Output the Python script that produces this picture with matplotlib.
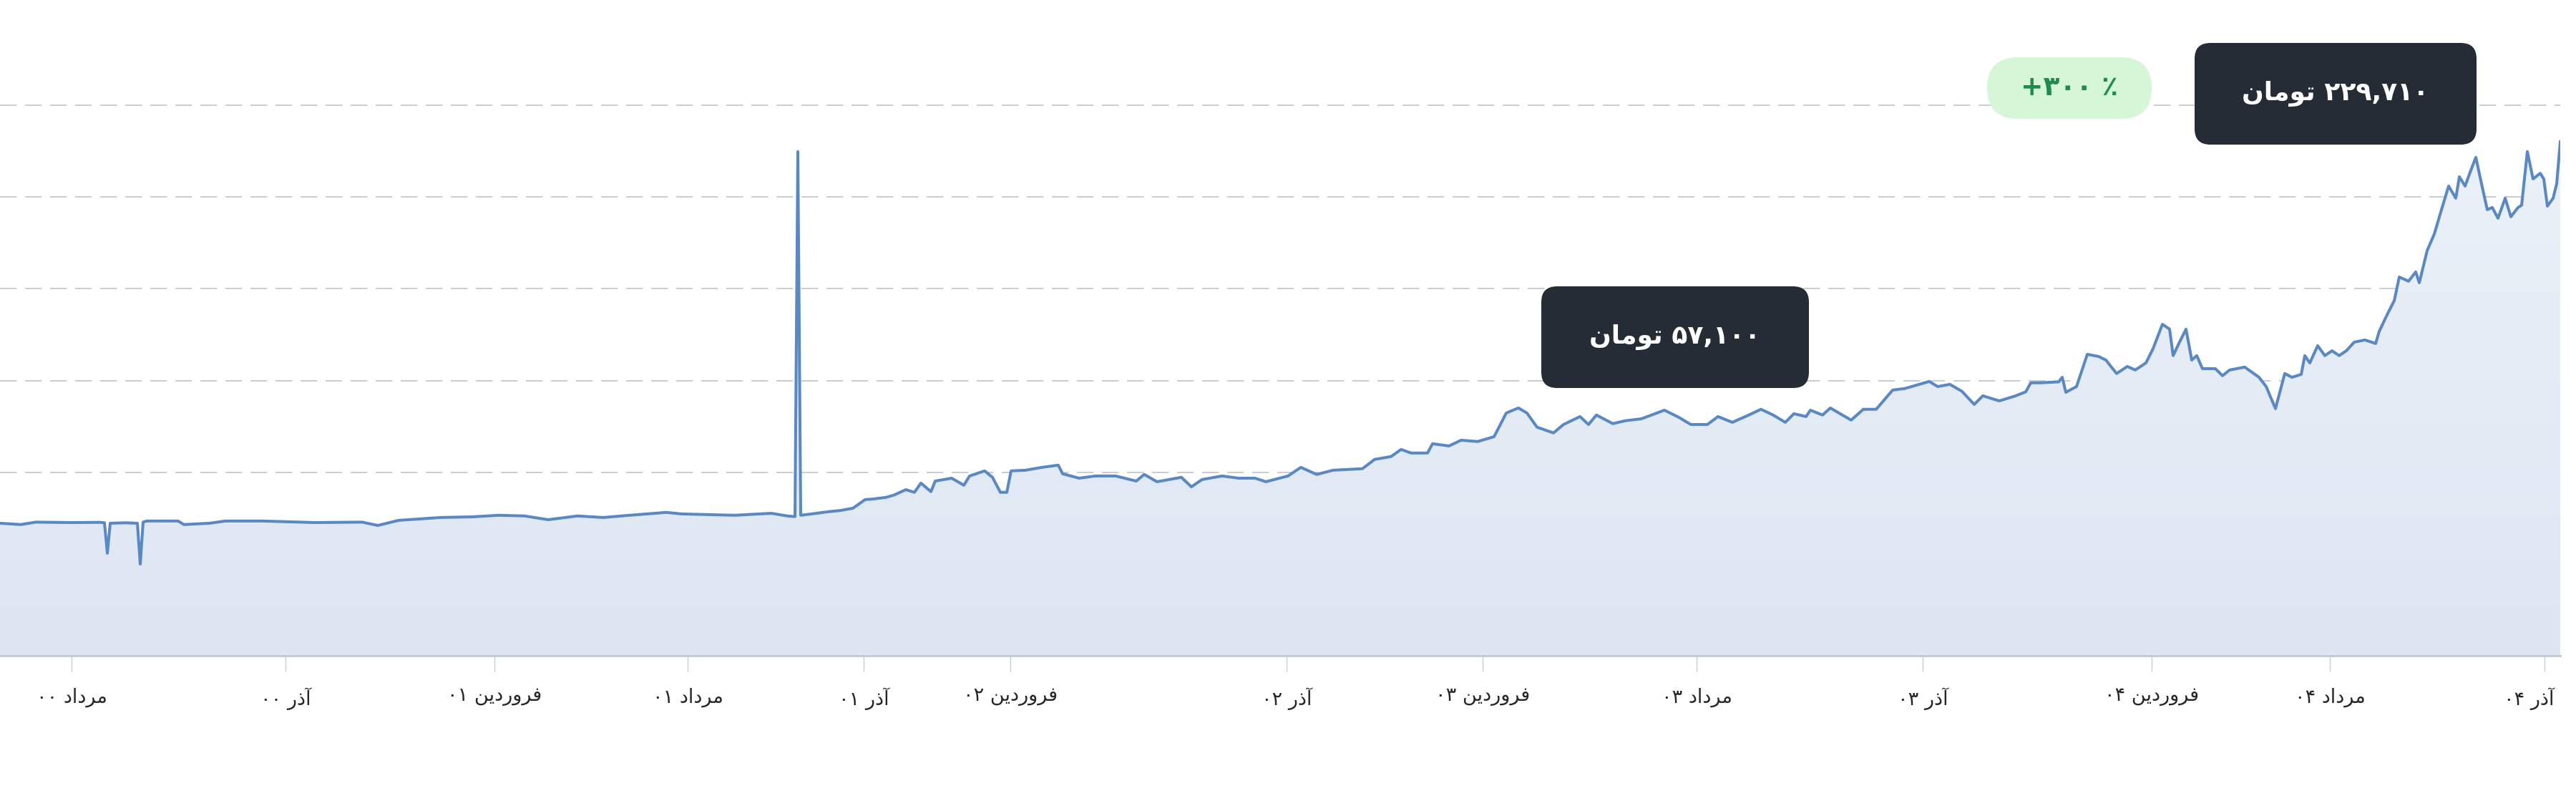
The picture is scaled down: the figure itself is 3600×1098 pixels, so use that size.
import numpy as np
import matplotlib
matplotlib.use("Agg")
import matplotlib.pyplot as plt
from matplotlib.patches import FancyBboxPatch, Polygon
from matplotlib.colors import LinearSegmentedColormap
from matplotlib.transforms import ScaledTranslation

plt.rcParams['font.family'] = ['DejaVu Sans']

# ---------------- data ----------------
# sample position along the time axis
t = [0, 29, 50, 100, 140, 146, 150, 154, 175, 192, 196, 200, 205, 249, 257,
     293, 315, 367, 440, 506, 528, 557, 616, 660, 697, 733, 766, 807, 843, 880,
     931, 953, 1027, 1078, 1100, 1111, 1115, 1119,
     1134, 1157, 1175, 1192, 1209, 1221, 1238, 1249, 1266, 1278, 1287, 1301, 1307,
     1330, 1347, 1355, 1376, 1387, 1398, 1407, 1413, 1433, 1456, 1479, 1485, 1508,
     1531, 1559, 1588, 1599, 1617, 1651, 1665, 1680, 1708, 1731, 1754, 1769, 1800,
     1818, 1840, 1863, 1904, 1921, 1944, 1958, 1972, 1995,
     2002, 2025, 2042, 2065, 2088, 2105, 2122, 2134, 2148, 2171, 2185, 2208, 2220,
     2231, 2254, 2271, 2294, 2326, 2346, 2363, 2386, 2401, 2421, 2444, 2461, 2478,
     2495, 2507, 2524, 2530, 2547, 2558, 2570, 2587, 2604, 2622, 2645, 2662, 2679,
     2696, 2708, 2725, 2742, 2759, 2771, 2794, 2817, 2831,
     2838, 2851, 2877, 2882, 2887, 2902, 2917, 2933, 2943, 2958, 2973, 2984, 2999,
     3009, 3022, 3032, 3037, 3045, 3055, 3063, 3070, 3078, 3096, 3106, 3116, 3137,
     3157, 3167, 3180, 3193, 3203, 3216, 3221, 3228, 3239, 3249, 3259, 3269, 3279,
     3290, 3305, 3320, 3325, 3336, 3346, 3353, 3366, 3376, 3381, 3392, 3402, 3412,
     3422, 3432, 3437, 3445, 3453, 3460, 3468, 3476, 3483, 3491, 3501, 3509, 3519,
     3524, 3532, 3540, 3550, 3555, 3560, 3568, 3573, 3578]

# price in thousand toman
price_k = [57.0, 56.4, 57.5, 57.3, 57.4, 57.2, 43.4, 57.0, 57.2, 57.0, 38.5, 57.5, 58.0, 58.0, 56.4,
           57.0, 58.0, 58.0, 57.3, 57.5, 56.0, 58.3, 59.6, 59.9, 60.6, 60.3, 58.6, 60.3, 59.6, 60.6,
           61.9, 61.2, 60.6, 61.5, 60.3, 60.0, 225.3, 60.6,
           61.2, 62.2, 62.8, 63.8, 67.7, 68.0, 68.7, 69.7, 72.2, 71.0, 75.2, 71.3, 76.1,
           77.4, 74.2, 78.4, 80.7, 77.8, 71.0, 71.0, 80.7, 81.0, 82.3, 83.3, 79.4, 77.4,
           78.4, 78.4, 76.1, 79.1, 75.8, 77.8, 73.5, 76.8, 78.4, 77.4, 77.4, 75.8, 78.4,
           82.3, 79.1, 81.0, 81.7, 85.9, 87.2, 90.4, 88.8, 88.8,
           93.0, 92.0, 94.6, 94.0, 96.2, 106.9, 109.2, 106.9, 100.5, 97.9, 101.7, 105.3, 101.7,
           106.0, 102.1, 103.4, 104.3, 108.2, 105.0, 101.7, 101.7, 105.3, 102.7, 106.0, 108.6, 106.0,
           102.7, 106.6, 105.3, 108.2, 106.0, 109.2, 106.9, 103.7, 108.6, 108.6, 117.3, 118.0, 119.6,
           121.2, 118.9, 119.9, 116.7, 110.8, 114.7, 112.4, 114.7, 116.5,
           120.6, 120.6, 121.0, 123.1, 116.3, 118.9, 133.5, 132.5, 130.9, 124.8, 128.0, 126.4, 129.6,
           136.1, 147.1, 144.9, 132.9, 138.4, 144.9, 130.9, 132.9, 127.0, 127.0, 123.8, 126.4, 127.7,
           123.1, 118.9, 108.9, 124.8, 123.1, 124.4, 132.9, 129.6, 137.4, 132.9, 135.1, 132.9, 135.1,
           139.0, 140.0, 138.4, 143.9, 151.4, 157.8, 168.5, 166.6, 170.8, 165.9, 180.5, 188.0, 199.0,
           209.7, 204.2, 213.9, 209.7, 216.8, 222.7, 210.7, 199.0, 200.0, 195.1, 204.2, 195.8, 200.0,
           201.0, 225.3, 212.9, 215.5, 212.9, 200.6, 204.2, 210.7, 229.71]

tick_pos = [100, 399, 691, 961, 1207, 1412, 1798, 2072, 2371, 2687, 3007, 3256, 3556]
tick_labels = ['مرداد ۰۰', 'آذر ۰۰', 'فروردین ۰۱', 'مرداد ۰۱', 'آذر ۰۱', 'فروردین ۰۲',
               'آذر ۰۲', 'فروردین ۰۳', 'مرداد ۰۳', 'آذر ۰۳', 'فروردین ۰۴', 'مرداد ۰۴', 'آذر ۰۴']
latest_label = '۲۲۹,۷۱۰ تومان'
start_label = '۵۷,۱۰۰ تومان'
change_label = '+۳۰۰ ٪'

# ---------------- minimal Persian shaping (matplotlib has no RTL layout) ----------------
FORMS = {  # isolated, final, initial, medial
    'ا': ('\uFE8D', '\uFE8E', None, None),
    'آ': ('\uFE81', '\uFE82', None, None),
    'د': ('\uFEA9', '\uFEAA', None, None),
    'ذ': ('\uFEAB', '\uFEAC', None, None),
    'ر': ('\uFEAD', '\uFEAE', None, None),
    'و': ('\uFEED', '\uFEEE', None, None),
    'م': ('\uFEE1', '\uFEE2', '\uFEE3', '\uFEE4'),
    'ن': ('\uFEE5', '\uFEE6', '\uFEE7', '\uFEE8'),
    'ت': ('\uFE95', '\uFE96', '\uFE97', '\uFE98'),
    'ف': ('\uFED1', '\uFED2', '\uFED3', '\uFED4'),
    'ی': ('\uFBFC', '\uFBFD', '\uFEF3', '\uFEF4'),
}


def shape_word(w):
    out = []
    for i, c in enumerate(w):
        f = FORMS.get(c)
        if f is None:
            out.append(c)
            continue
        prev = w[i - 1] if i > 0 else None
        nxt = w[i + 1] if i + 1 < len(w) else None
        jp = prev in FORMS and FORMS[prev][2] is not None
        jn = f[2] is not None and nxt in FORMS
        if jp and jn:
            out.append(f[3])
        elif jp:
            out.append(f[1])
        elif jn:
            out.append(f[2])
        else:
            out.append(f[0])
    return ''.join(out)


def rtl(text):
    vis = []
    for tok in text.split(' '):
        if any(c in FORMS for c in tok):
            vis.append(shape_word(tok)[::-1])
        else:
            vis.append(tok)
    return ' '.join(vis[::-1])


# ---------------- figure ----------------
W, H = 3600, 1098
fig = plt.figure(figsize=(W / 100, H / 100), dpi=100)
fig.patch.set_facecolor('white')

y_bot_px, y_top_px, x_right_px = 916, 147, 3578
ax = fig.add_axes([0, (H - y_bot_px) / H, x_right_px / W, (y_bot_px - y_top_px) / H])
ax.set_facecolor('none')

ymin, ystep = -3.0, 41.55
ymax = ymin + 6 * ystep
ax.set_xlim(0, 3578)
ax.set_ylim(ymin, ymax)

x = np.array(t, dtype=float)
y = np.array(price_k, dtype=float)

# gridlines
for k in range(1, 7):
    ax.axhline(ymin + k * ystep, color='#c9cdd3', lw=1.4, dashes=(12, 6), zorder=0.5, clip_on=False)

# gradient area fill
cmap = LinearSegmentedColormap.from_list('area', ['#dde6f2', '#edf2f9'])
grad = np.linspace(0, 1, 256).reshape(-1, 1)
im = ax.imshow(grad, extent=[0, 3578, ymin, ymax], origin='lower', aspect='auto',
               cmap=cmap, zorder=1, interpolation='bicubic')
clip = Polygon(np.column_stack([np.r_[x, x[-1], x[0]], np.r_[y, ymin, ymin]]),
               closed=True, transform=ax.transData, facecolor='none', edgecolor='none')
ax.add_patch(clip)
im.set_clip_path(clip)

# line
ax.plot(x, y, color='#5a88c3', lw=2.9, zorder=3, solid_joinstyle='round')

# axes styling
for s in ['top', 'right', 'left']:
    ax.spines[s].set_visible(False)
ax.spines['bottom'].set_color('#c2cddc')
ax.spines['bottom'].set_linewidth(2.2)
ax.spines['bottom'].set_zorder(4)
ax.set_yticks([])
ax.set_xticks(tick_pos)
ax.set_xticklabels([rtl(s) for s in tick_labels])
ax.tick_params(axis='x', length=16, width=1.0, color='#c9cdd3', pad=16,
               labelsize=19.5, labelcolor='#262626')
lbls = ax.get_xticklabels()
lbls[-1].set_transform(lbls[-1].get_transform() + ScaledTranslation(-0.22, 0, fig.dpi_scale_trans))

# ---------------- annotation boxes (inches in figure space) ----------------
def box(x0, yt, w, h, r, fc):
    p = FancyBboxPatch((x0 / 100, (H - yt - h) / 100), w / 100, h / 100,
                       boxstyle=f'round,pad=0,rounding_size={r / 100}',
                       transform=fig.dpi_scale_trans, fc=fc, ec='none', zorder=10)
    fig.add_artist(p)
    return ((x0 + w / 2) / 100, (H - yt - h / 2) / 100)

c1 = box(3067, 60, 394, 142, 22, '#262c35')
fig.text(c1[0], c1[1], rtl(latest_label), transform=fig.dpi_scale_trans, ha='center', va='center',
         color='white', fontsize=26, fontweight='bold', zorder=11)

c2 = box(2777, 80, 230, 86, 43, '#d5f7d8')
fig.text(c2[0], c2[1], change_label, transform=fig.dpi_scale_trans, ha='center', va='center',
         color='#1f8b4c', fontsize=27, fontweight='bold', zorder=11)

c3 = box(2154, 400, 374, 142, 22, '#262c35')
fig.text(c3[0], c3[1], rtl(start_label), transform=fig.dpi_scale_trans, ha='center', va='center',
         color='white', fontsize=26, fontweight='bold', zorder=11)

fig.savefig('out.png', dpi=100, facecolor='white')
